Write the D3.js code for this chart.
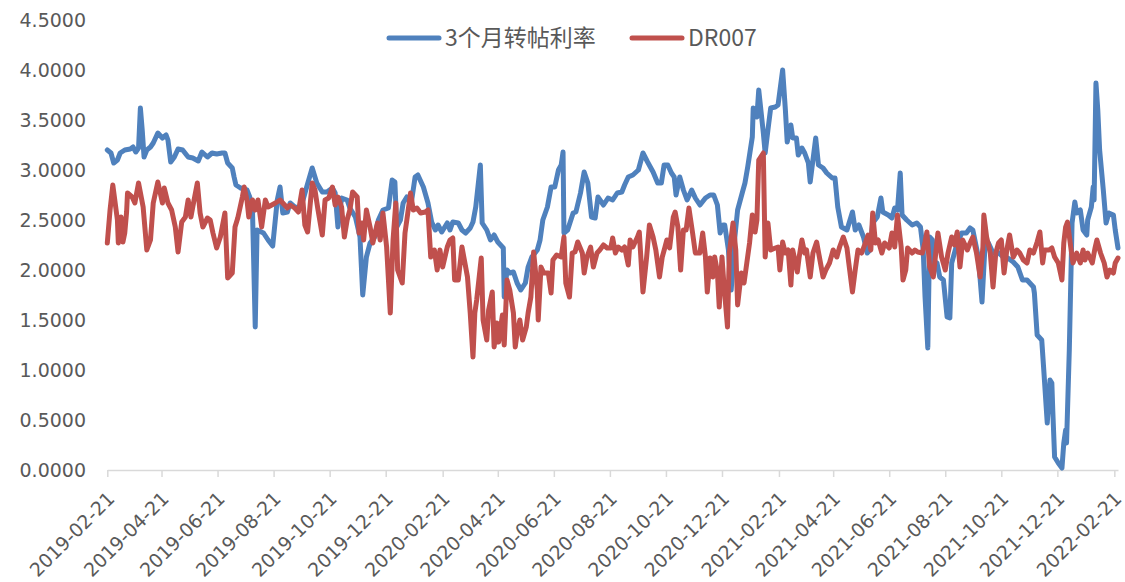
<!DOCTYPE html>
<html>
<head>
<meta charset="utf-8">
<script src="https://cdn.jsdelivr.net/npm/d3@7/dist/d3.min.js"></script>
<style>
  html, body { margin: 0; padding: 0; background: #ffffff; }
  svg { display: block; }
</style>
</head>
<body>
<svg id="chart" width="1125" height="582"></svg>
<script>
// ---- data ----
const seriesNames = ["3个月转帖利率", "DR007"];

const xTickLabels = ["2019-02-21","2019-04-21","2019-06-21","2019-08-21","2019-10-21","2019-12-21",
  "2020-02-21","2020-04-21","2020-06-21","2020-08-21","2020-10-21","2020-12-21",
  "2021-02-21","2021-04-21","2021-06-21","2021-08-21","2021-10-21","2021-12-21","2022-02-21"];

const yTickValues = [0, 0.5, 1, 1.5, 2, 2.5, 3, 3.5, 4, 4.5];

const blueSeries = [["2019-02-21",3.20],["2019-02-25",3.17],["2019-02-28",3.07],["2019-03-04",3.10],["2019-03-07",3.17],["2019-03-12",3.20],["2019-03-18",3.21],["2019-03-21",3.23],["2019-03-24",3.18],["2019-03-27",3.22],["2019-03-29",3.62],["2019-03-31",3.40],["2019-04-02",3.13],["2019-04-05",3.20],["2019-04-09",3.23],["2019-04-12",3.27],["2019-04-17",3.37],["2019-04-22",3.32],["2019-04-26",3.35],["2019-04-28",3.30],["2019-05-01",3.08],["2019-05-05",3.13],["2019-05-09",3.21],["2019-05-14",3.20],["2019-05-20",3.13],["2019-05-25",3.12],["2019-05-31",3.09],["2019-06-04",3.18],["2019-06-10",3.13],["2019-06-15",3.17],["2019-06-20",3.16],["2019-06-26",3.17],["2019-06-29",3.17],["2019-07-02",3.07],["2019-07-07",3.02],["2019-07-09",2.93],["2019-07-11",2.85],["2019-07-16",2.82],["2019-07-23",2.80],["2019-07-26",2.73],["2019-07-29",2.60],["2019-08-01",1.43],["2019-08-03",2.40],["2019-08-10",2.37],["2019-08-15",2.30],["2019-08-20",2.24],["2019-08-25",2.70],["2019-08-28",2.83],["2019-08-31",2.57],["2019-09-05",2.58],["2019-09-08",2.67],["2019-09-13",2.63],["2019-09-19",2.62],["2019-09-22",2.70],["2019-09-26",2.83],["2019-10-02",3.02],["2019-10-07",2.87],["2019-10-13",2.78],["2019-10-18",2.78],["2019-10-24",2.82],["2019-10-27",2.77],["2019-10-30",2.43],["2019-11-03",2.72],["2019-11-09",2.70],["2019-11-12",2.62],["2019-11-18",2.53],["2019-11-23",2.33],["2019-11-26",1.75],["2019-11-30",2.13],["2019-12-04",2.27],["2019-12-09",2.33],["2019-12-13",2.50],["2019-12-18",2.60],["2019-12-24",2.62],["2019-12-28",2.90],["2019-12-31",2.88],["2020-01-02",2.43],["2020-01-06",2.50],["2020-01-09",2.67],["2020-01-13",2.73],["2020-01-18",2.68],["2020-01-22",2.93],["2020-01-25",2.95],["2020-01-31",2.83],["2020-02-05",2.67],["2020-02-09",2.48],["2020-02-13",2.40],["2020-02-16",2.45],["2020-02-20",2.38],["2020-02-26",2.47],["2020-02-29",2.40],["2020-03-03",2.48],["2020-03-09",2.47],["2020-03-13",2.40],["2020-03-17",2.37],["2020-03-22",2.42],["2020-03-25",2.48],["2020-03-28",2.63],["2020-04-02",3.05],["2020-04-04",2.47],["2020-04-09",2.40],["2020-04-13",2.30],["2020-04-17",2.35],["2020-04-21",2.28],["2020-04-27",2.22],["2020-04-28",1.73],["2020-05-01",2.00],["2020-05-04",1.97],["2020-05-08",1.98],["2020-05-12",1.87],["2020-05-16",1.80],["2020-05-21",1.87],["2020-05-24",2.03],["2020-05-28",2.13],["2020-06-03",2.20],["2020-06-06",2.30],["2020-06-09",2.50],["2020-06-14",2.63],["2020-06-18",2.83],["2020-06-22",2.83],["2020-06-26",3.00],["2020-06-29",3.05],["2020-07-01",3.18],["2020-07-02",2.37],["2020-07-06",2.40],["2020-07-12",2.57],["2020-07-15",2.58],["2020-07-20",2.77],["2020-07-24",2.98],["2020-07-28",2.87],["2020-08-01",2.53],["2020-08-05",2.52],["2020-08-08",2.73],["2020-08-14",2.65],["2020-08-19",2.72],["2020-08-24",2.70],["2020-08-29",2.77],["2020-09-03",2.78],["2020-09-06",2.85],["2020-09-10",2.93],["2020-09-15",2.95],["2020-09-21",3.00],["2020-09-26",3.17],["2020-10-01",3.08],["2020-10-07",2.98],["2020-10-12",2.87],["2020-10-16",2.87],["2020-10-19",3.05],["2020-10-23",3.05],["2020-10-27",2.97],["2020-10-30",2.93],["2020-11-01",2.75],["2020-11-05",2.93],["2020-11-09",2.80],["2020-11-13",2.70],["2020-11-18",2.80],["2020-11-22",2.72],["2020-11-27",2.65],["2020-12-03",2.72],["2020-12-08",2.75],["2020-12-12",2.75],["2020-12-16",2.65],["2020-12-19",2.37],["2020-12-22",2.45],["2020-12-24",2.45],["2020-12-28",2.20],["2020-12-31",1.80],["2021-01-04",2.33],["2021-01-07",2.60],["2021-01-12",2.77],["2021-01-15",2.87],["2021-01-18",3.03],["2021-01-23",3.33],["2021-01-24",3.62],["2021-01-28",3.53],["2021-01-30",3.80],["2021-02-04",3.37],["2021-02-06",3.17],["2021-02-09",3.40],["2021-02-12",3.62],["2021-02-17",3.63],["2021-02-20",3.65],["2021-02-25",4.00],["2021-02-28",3.60],["2021-03-02",3.28],["2021-03-06",3.45],["2021-03-08",3.32],["2021-03-12",3.32],["2021-03-14",3.15],["2021-03-18",3.22],["2021-03-21",3.17],["2021-03-25",3.07],["2021-03-27",2.88],["2021-03-30",3.10],["2021-04-02",3.32],["2021-04-05",3.05],["2021-04-10",3.02],["2021-04-14",2.97],["2021-04-20",2.92],["2021-04-23",2.92],["2021-04-26",2.63],["2021-04-30",2.43],["2021-05-06",2.40],["2021-05-12",2.58],["2021-05-15",2.40],["2021-05-19",2.45],["2021-05-24",2.33],["2021-05-28",2.17],["2021-05-31",2.20],["2021-06-03",2.47],["2021-06-08",2.53],["2021-06-12",2.72],["2021-06-14",2.58],["2021-06-20",2.55],["2021-06-24",2.52],["2021-06-27",2.62],["2021-06-30",2.60],["2021-07-03",2.97],["2021-07-05",2.55],["2021-07-10",2.50],["2021-07-16",2.45],["2021-07-21",2.47],["2021-07-25",2.43],["2021-07-28",2.20],["2021-07-30",1.73],["2021-08-02",1.22],["2021-08-04",2.33],["2021-08-07",2.30],["2021-08-08",2.03],["2021-08-12",2.07],["2021-08-15",1.93],["2021-08-19",1.90],["2021-08-23",1.53],["2021-08-26",1.52],["2021-08-28",2.07],["2021-09-03",2.27],["2021-09-08",2.37],["2021-09-13",2.37],["2021-09-17",2.42],["2021-09-20",2.40],["2021-09-26",2.13],["2021-09-30",1.68],["2021-10-03",2.20],["2021-10-07",2.27],["2021-10-12",2.17],["2021-10-17",2.18],["2021-10-23",2.13],["2021-10-28",2.12],["2021-11-03",2.08],["2021-11-08",2.03],["2021-11-13",1.90],["2021-11-18",1.90],["2021-11-21",1.87],["2021-11-25",1.83],["2021-11-26",1.77],["2021-11-29",1.35],["2021-12-04",1.30],["2021-12-06",1.03],["2021-12-10",0.47],["2021-12-13",0.90],["2021-12-15",0.87],["2021-12-16",0.60],["2021-12-18",0.13],["2021-12-22",0.07],["2021-12-26",0.02],["2021-12-28",0.27],["2021-12-30",0.40],["2021-12-31",0.27],["2022-01-03",1.20],["2022-01-06",2.47],["2022-01-09",2.68],["2022-01-11",2.57],["2022-01-15",2.60],["2022-01-18",2.40],["2022-01-22",2.35],["2022-01-23",2.50],["2022-01-27",2.63],["2022-01-29",2.83],["2022-01-30",2.70],["2022-02-01",3.87],["2022-02-03",3.60],["2022-02-05",3.20],["2022-02-09",2.80],["2022-02-12",2.47],["2022-02-15",2.57],["2022-02-20",2.55],["2022-02-22",2.40],["2022-02-25",2.22]];

const redSeries = [["2019-02-21",2.27],["2019-02-24",2.60],["2019-02-27",2.85],["2019-03-04",2.50],["2019-03-05",2.27],["2019-03-08",2.53],["2019-03-10",2.28],["2019-03-12",2.37],["2019-03-14",2.58],["2019-03-15",2.77],["2019-03-20",2.73],["2019-03-23",2.67],["2019-03-27",2.87],["2019-04-01",2.63],["2019-04-05",2.20],["2019-04-09",2.30],["2019-04-12",2.67],["2019-04-17",2.88],["2019-04-22",2.67],["2019-04-24",2.82],["2019-04-28",2.67],["2019-05-02",2.60],["2019-05-06",2.43],["2019-05-09",2.18],["2019-05-13",2.48],["2019-05-17",2.53],["2019-05-20",2.70],["2019-05-23",2.53],["2019-05-25",2.63],["2019-05-30",2.87],["2019-06-02",2.57],["2019-06-05",2.43],["2019-06-10",2.52],["2019-06-13",2.50],["2019-06-16",2.37],["2019-06-20",2.22],["2019-06-24",2.33],["2019-06-29",2.57],["2019-07-02",1.92],["2019-07-07",1.97],["2019-07-10",2.43],["2019-07-13",2.52],["2019-07-18",2.73],["2019-07-20",2.83],["2019-07-23",2.70],["2019-07-25",2.53],["2019-07-29",2.70],["2019-08-01",2.60],["2019-08-04",2.70],["2019-08-08",2.43],["2019-08-12",2.70],["2019-08-15",2.63],["2019-08-19",2.65],["2019-08-23",2.67],["2019-08-28",2.70],["2019-08-31",2.67],["2019-09-05",2.62],["2019-09-08",2.65],["2019-09-13",2.62],["2019-09-17",2.58],["2019-09-21",2.80],["2019-09-24",2.45],["2019-09-27",2.38],["2019-10-02",2.87],["2019-10-05",2.80],["2019-10-08",2.62],["2019-10-13",2.35],["2019-10-16",2.70],["2019-10-20",2.72],["2019-10-24",2.83],["2019-10-27",2.65],["2019-10-30",2.73],["2019-11-03",2.63],["2019-11-06",2.33],["2019-11-09",2.50],["2019-11-12",2.60],["2019-11-15",2.78],["2019-11-20",2.73],["2019-11-22",2.37],["2019-11-25",2.47],["2019-11-27",2.30],["2019-11-30",2.60],["2019-12-04",2.43],["2019-12-07",2.27],["2019-12-12",2.47],["2019-12-15",2.30],["2019-12-18",2.57],["2019-12-22",2.23],["2019-12-26",1.57],["2019-12-29",2.30],["2020-01-01",2.67],["2020-01-03",2.00],["2020-01-08",1.87],["2020-01-11",2.37],["2020-01-13",2.50],["2020-01-17",2.77],["2020-01-20",2.60],["2020-01-24",2.62],["2020-01-28",2.57],["2020-02-02",2.58],["2020-02-05",2.60],["2020-02-08",2.13],["2020-02-12",2.20],["2020-02-15",2.00],["2020-02-18",2.20],["2020-02-21",2.03],["2020-02-26",2.23],["2020-02-29",2.30],["2020-03-03",2.32],["2020-03-05",1.90],["2020-03-09",1.90],["2020-03-13",2.23],["2020-03-15",2.13],["2020-03-19",1.93],["2020-03-22",1.57],["2020-03-25",1.13],["2020-03-27",1.57],["2020-03-29",1.70],["2020-04-03",2.12],["2020-04-05",1.50],["2020-04-09",1.30],["2020-04-11",1.60],["2020-04-15",1.78],["2020-04-17",1.23],["2020-04-20",1.47],["2020-04-22",1.28],["2020-04-26",1.55],["2020-04-28",1.25],["2020-05-01",1.90],["2020-05-04",1.80],["2020-05-08",1.57],["2020-05-10",1.23],["2020-05-12",1.37],["2020-05-15",1.50],["2020-05-18",1.30],["2020-05-22",1.43],["2020-05-24",1.57],["2020-05-27",1.73],["2020-05-30",2.18],["2020-06-03",1.80],["2020-06-04",1.50],["2020-06-07",2.03],["2020-06-10",1.97],["2020-06-15",1.97],["2020-06-18",1.77],["2020-06-20",2.10],["2020-06-24",2.15],["2020-06-29",2.13],["2020-07-02",2.33],["2020-07-04",1.87],["2020-07-08",1.73],["2020-07-11",2.17],["2020-07-14",2.18],["2020-07-17",2.28],["2020-07-22",2.17],["2020-07-24",1.97],["2020-07-27",2.13],["2020-07-31",2.23],["2020-08-03",2.03],["2020-08-07",2.17],["2020-08-10",2.20],["2020-08-14",2.25],["2020-08-18",2.22],["2020-08-22",2.22],["2020-08-24",2.32],["2020-08-27",2.17],["2020-08-30",2.23],["2020-09-03",2.20],["2020-09-06",2.23],["2020-09-10",2.05],["2020-09-12",2.30],["2020-09-15",2.23],["2020-09-20",2.33],["2020-09-22",2.38],["2020-09-26",1.78],["2020-09-30",2.13],["2020-10-03",2.45],["2020-10-07",2.33],["2020-10-10",2.20],["2020-10-14",1.93],["2020-10-17",2.13],["2020-10-20",2.23],["2020-10-22",2.30],["2020-10-25",2.22],["2020-10-29",2.53],["2020-10-31",2.58],["2020-11-03",2.43],["2020-11-06",2.00],["2020-11-09",2.40],["2020-11-12",2.40],["2020-11-15",2.62],["2020-11-19",2.37],["2020-11-22",2.17],["2020-11-27",2.17],["2020-11-30",2.37],["2020-12-03",2.13],["2020-12-05",1.78],["2020-12-08",2.12],["2020-12-11",1.93],["2020-12-13",2.13],["2020-12-16",1.98],["2020-12-18",1.63],["2020-12-21",2.13],["2020-12-23",1.87],["2020-12-27",1.43],["2020-12-29",2.17],["2021-01-02",2.47],["2021-01-05",2.20],["2021-01-07",1.65],["2021-01-11",1.97],["2021-01-14",1.87],["2021-01-17",2.07],["2021-01-20",2.27],["2021-01-23",2.55],["2021-01-26",2.38],["2021-01-28",2.50],["2021-01-30",3.10],["2021-02-04",3.17],["2021-02-06",2.13],["2021-02-09",2.47],["2021-02-12",2.20],["2021-02-17",2.22],["2021-02-20",2.23],["2021-02-22",2.00],["2021-02-25",2.28],["2021-02-28",2.17],["2021-03-03",2.20],["2021-03-06",1.85],["2021-03-08",2.20],["2021-03-13",1.98],["2021-03-15",2.13],["2021-03-18",2.30],["2021-03-21",2.17],["2021-03-23",2.20],["2021-03-27",1.93],["2021-03-30",2.17],["2021-04-03",2.28],["2021-04-06",2.13],["2021-04-10",1.93],["2021-04-13",2.00],["2021-04-17",2.07],["2021-04-21",2.20],["2021-04-25",2.13],["2021-04-28",2.23],["2021-05-02",2.33],["2021-05-06",2.22],["2021-05-08",2.07],["2021-05-12",1.78],["2021-05-15",2.00],["2021-05-18",2.20],["2021-05-22",2.17],["2021-05-26",2.27],["2021-05-29",2.35],["2021-06-01",2.20],["2021-06-03",2.57],["2021-06-06",2.27],["2021-06-09",2.30],["2021-06-13",2.17],["2021-06-16",2.27],["2021-06-21",2.22],["2021-06-24",2.37],["2021-06-27",2.23],["2021-06-30",2.55],["2021-07-04",2.23],["2021-07-06",1.90],["2021-07-09",2.00],["2021-07-11",2.22],["2021-07-16",2.17],["2021-07-19",2.20],["2021-07-22",2.18],["2021-07-27",2.17],["2021-07-30",2.28],["2021-08-01",2.38],["2021-08-04",2.03],["2021-08-08",1.93],["2021-08-11",2.20],["2021-08-13",2.37],["2021-08-17",2.13],["2021-08-21",2.00],["2021-08-24",2.17],["2021-08-28",2.33],["2021-08-31",2.25],["2021-09-03",2.38],["2021-09-06",2.03],["2021-09-09",2.30],["2021-09-14",2.20],["2021-09-17",2.27],["2021-09-20",2.33],["2021-09-24",2.17],["2021-09-28",1.93],["2021-10-01",2.23],["2021-10-02",2.55],["2021-10-05",2.33],["2021-10-09",2.17],["2021-10-12",1.83],["2021-10-15",2.17],["2021-10-18",2.27],["2021-10-21",2.30],["2021-10-24",1.97],["2021-10-27",2.20],["2021-10-30",2.35],["2021-11-03",2.13],["2021-11-07",2.20],["2021-11-10",2.17],["2021-11-14",2.10],["2021-11-18",2.07],["2021-11-21",2.20],["2021-11-25",2.17],["2021-11-29",2.28],["2021-12-02",2.38],["2021-12-05",2.07],["2021-12-07",2.20],["2021-12-12",2.20],["2021-12-15",2.22],["2021-12-18",2.13],["2021-12-22",2.07],["2021-12-26",1.90],["2021-12-28",2.27],["2021-12-30",2.43],["2022-01-01",2.48],["2022-01-05",2.20],["2022-01-07",2.07],["2022-01-11",2.17],["2022-01-15",2.07],["2022-01-18",2.20],["2022-01-20",2.10],["2022-01-23",2.17],["2022-01-28",2.07],["2022-01-31",2.22],["2022-02-02",2.30],["2022-02-06",2.17],["2022-02-10",2.07],["2022-02-13",1.93],["2022-02-16",2.00],["2022-02-20",1.97],["2022-02-22",2.07],["2022-02-25",2.12]];

const colors = ["#4f81bd", "#c0504d"];

// ---- chart ----
const parse = d3.timeParse("%Y-%m-%d");
const svg = d3.select("#chart");
svg.append("rect").attr("width", 1125).attr("height", 582).attr("fill", "#ffffff");

const x = d3.scaleTime()
  .domain([parse("2019-02-21"), parse("2022-02-25")])
  .range([107.3, 1118]);
const y = d3.scaleLinear().domain([0, 4.5]).range([470, 20]);

const textColor = "#595959";
const axisFont = "'DejaVu Sans', sans-serif";

// y axis labels (no axis line)
const yAxis = d3.axisLeft(y).tickValues(yTickValues).tickFormat(d3.format(".4f")).tickSize(0).tickPadding(0);
const yg = svg.append("g").attr("transform", "translate(86,0)").call(yAxis);
yg.select(".domain").remove();
yg.selectAll("text").attr("fill", textColor).style("font-family", axisFont).style("font-size", "19px");

// x axis
const xTicks = xTickLabels.map(parse);
const xAxis = d3.axisBottom(x).tickValues(xTicks).tickFormat(d3.timeFormat("%Y-%m-%d")).tickSize(7).tickSizeOuter(0);
const xg = svg.append("g").attr("transform", "translate(0,470)").call(xAxis);
xg.select(".domain").attr("stroke", "#d9d9d9").attr("stroke-width", 1.5);
xg.selectAll(".tick line").attr("stroke", "#d9d9d9").attr("stroke-width", 1.5);
xg.selectAll(".tick text")
  .attr("fill", textColor)
  .style("font-family", axisFont).style("font-size", "19px")
  .attr("text-anchor", "end")
  .attr("x", 0).attr("y", 0).attr("dy", 0)
  .attr("transform", "translate(8,30) rotate(-45)");

// lines
const line = d3.line().x(d => x(parse(d[0]))).y(d => y(d[1]));
[blueSeries, redSeries].forEach((s, i) => {
  svg.append("path").datum(s)
    .attr("d", line)
    .attr("fill", "none")
    .attr("stroke", colors[i])
    .attr("stroke-width", 5)
    .attr("stroke-linejoin", "round")
    .attr("stroke-linecap", "round");
});

// legend
const legendFont = "'Noto Sans CJK SC', sans-serif";
const legendItems = [{ x: 387, name: seriesNames[0], color: colors[0] }, { x: 630, name: seriesNames[1], color: colors[1] }];
const lg = svg.append("g");
legendItems.forEach(it => {
  lg.append("line").attr("x1", it.x + 2).attr("x2", it.x + 52).attr("y1", 38).attr("y2", 38)
    .attr("stroke", it.color).attr("stroke-width", 5).attr("stroke-linecap", "round");
  lg.append("text").attr("x", it.x + 58).attr("y", 46)
    .attr("fill", textColor).style("font-family", legendFont).style("font-size", "23px")
    .text(it.name);
});
</script>
</body>
</html>
